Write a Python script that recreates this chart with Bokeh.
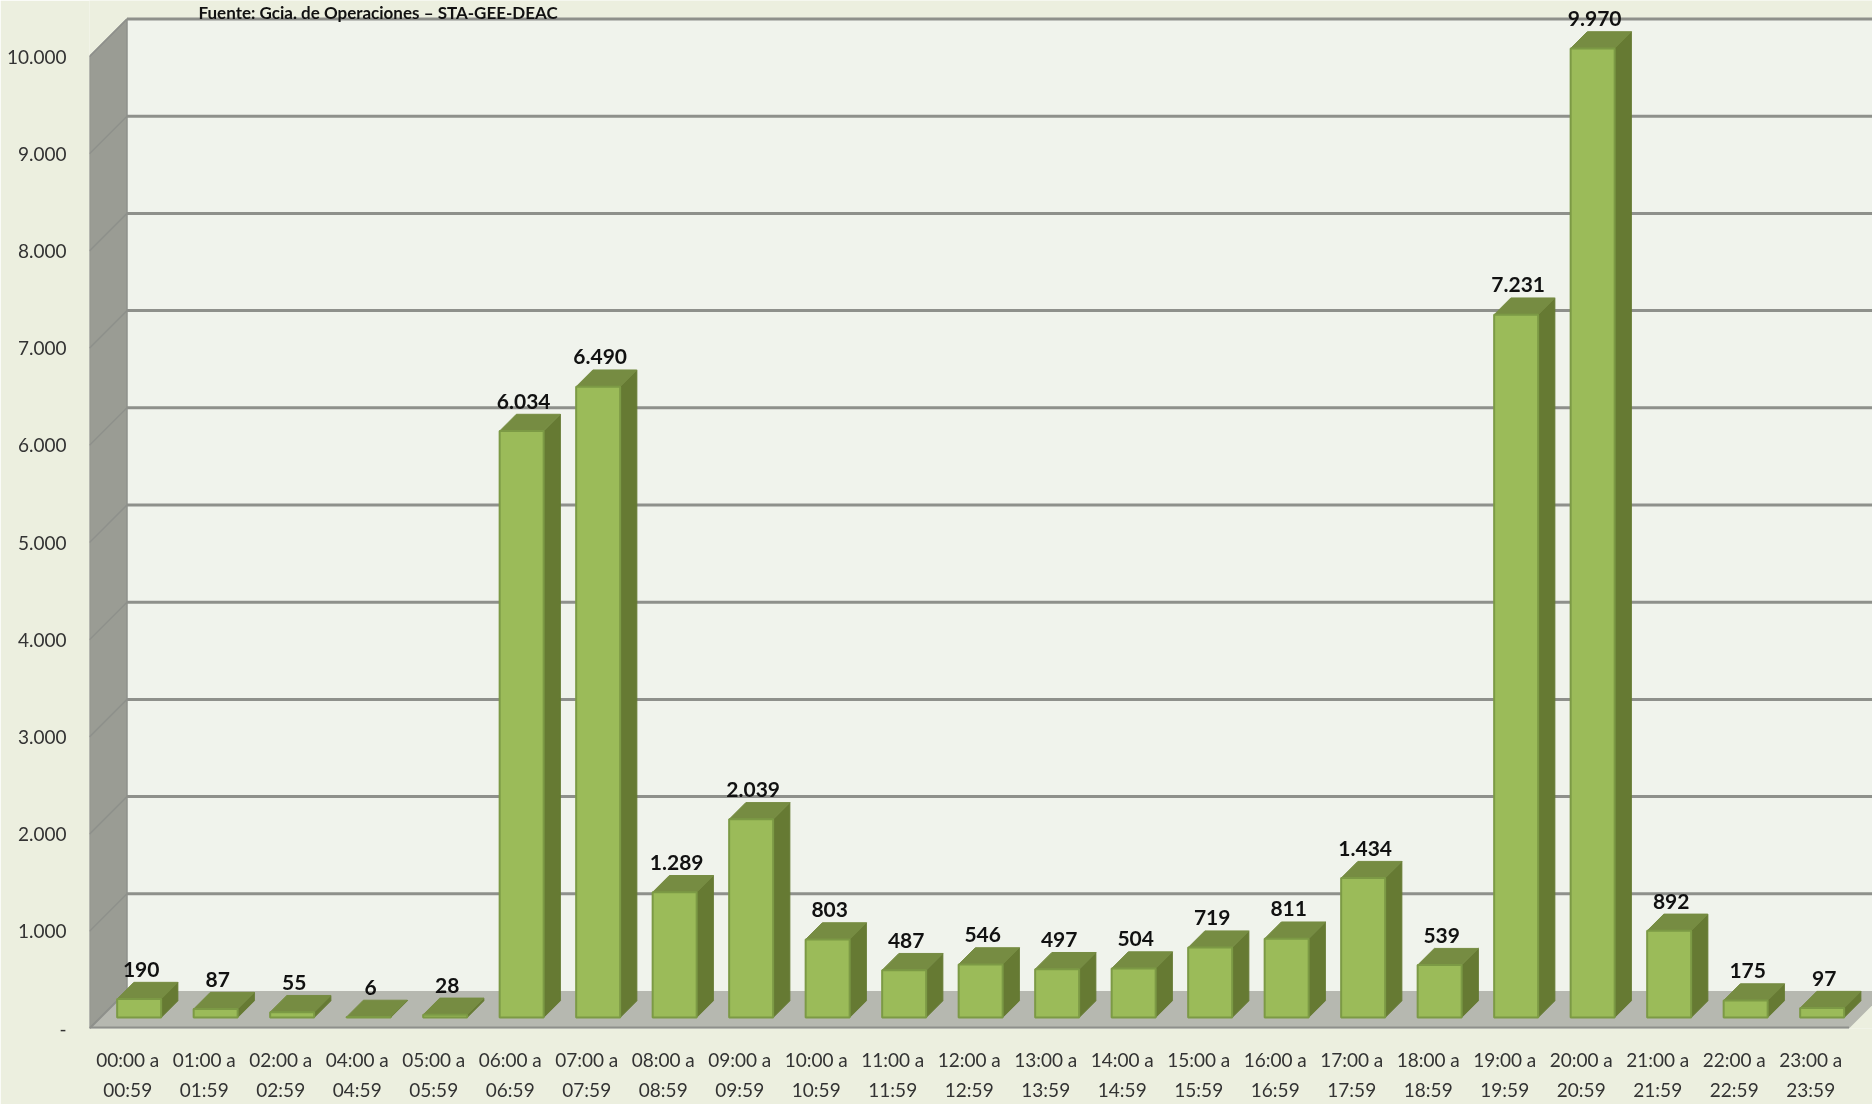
from bokeh.plotting import figure
from bokeh.models import Range1d, FixedTicker, Label, LinearAxis
from bokeh.embed import file_html
from bokeh.resources import INLINE
from bokeh.core.properties import value

# ---- data
starts = ["00:00 a","01:00 a","02:00 a","04:00 a","05:00 a","06:00 a","07:00 a","08:00 a","09:00 a","10:00 a","11:00 a",
          "12:00 a","13:00 a","14:00 a","15:00 a","16:00 a","17:00 a","18:00 a","19:00 a","20:00 a","21:00 a","22:00 a","23:00 a"]
ends = ["00:59","01:59","02:59","04:59","05:59","06:59","07:59","08:59","09:59","10:59","11:59",
        "12:59","13:59","14:59","15:59","16:59","17:59","18:59","19:59","20:59","21:59","22:59","23:59"]
counts = [190,87,55,6,28,6034,6490,1289,2039,803,487,546,497,504,719,811,1434,539,7231,9970,892,175,97]
y_ticks = [0,1000,2000,3000,4000,5000,6000,7000,8000,9000,10000]
y_tick_labels = ["-","1.000","2.000","3.000","4.000","5.000","6.000","7.000","8.000","9.000","10.000"]
source_note = "Fuente: Gcia. de Operaciones – STA-GEE-DEAC"

# ---- layout constants (pixels)
W, H = 1872, 1104
LEFT, BOTTOM = 89, 1028
PX_PER_CAT = 76.5
PX_PER_UNIT = 0.0972
n = len(counts)
cx = lambda px: px / PX_PER_CAT      # pixels -> category units
cy = lambda px: px / PX_PER_UNIT     # pixels -> value units

WALL_DX, WALL_DY = cx(37.5), cy(37.5)
BAR_OFF_X, BAR_OFF_Y = cx(11.4), cy(11)
BAR_W = cx(44)
BAR_DX, BAR_DY = cx(16.7), cy(16.7)

PAGE = "#ECEFDF"; WALL = "#F0F3EC"; SIDE = "#9A9C94"; FLOOR = "#B6B8B0"
GRID = "#8E908B"; FRONT = "#9BBB59"; EDGE = "#7C9A45"; SIDEC = "#667A33"; TOP = "#768C42"
FONT = "Lato"

x0 = -0.5
x1 = x0 + (W - LEFT) / PX_PER_CAT
y1 = BOTTOM / PX_PER_UNIT
xend = x0 + n
p = figure(width=W, height=H, x_range=Range1d(x0, x1), y_range=Range1d(0, y1),
           output_backend="svg", toolbar_location=None,
           min_border_left=LEFT, min_border_right=0, min_border_top=0, min_border_bottom=H - BOTTOM,
           background_fill_color=PAGE, border_fill_color=PAGE, outline_line_color=None,
           styles={"position": "fixed", "left": "0", "top": "0"})
p.grid.visible = False

# walls
p.quad(left=x0 + WALL_DX, right=x1, bottom=WALL_DY, top=y_ticks[-1] + WALL_DY, fill_color=WALL, line_color=None)
p.patch([x0, x0 + WALL_DX, x0 + WALL_DX, x0], [0, WALL_DY, y_ticks[-1] + WALL_DY, y_ticks[-1]],
        fill_color=SIDE, line_color=GRID, line_width=1.5)
# grid lines
for t in y_ticks[1:]:
    p.line([x0, x0 + WALL_DX], [t, t + WALL_DY], line_color=GRID, line_width=1.5)
    p.line([x0 + WALL_DX, x1], [t + WALL_DY, t + WALL_DY], line_color=GRID, line_width=3)
# floor
p.patch([x0, x0 + WALL_DX, xend + WALL_DX, xend], [0, WALL_DY, WALL_DY, 0],
        fill_color=FLOOR, line_color=None)
p.line([x0, xend], [0, 0], line_color=GRID, line_width=4)
p.line([x0, x0 + WALL_DX], [0, WALL_DY], line_color=GRID, line_width=2)

# bars
for i, v in enumerate(counts):
    l = i + BAR_OFF_X - BAR_W / 2
    r = l + BAR_W
    b = BAR_OFF_Y
    t = b + v
    p.patch([r, r + BAR_DX, r + BAR_DX, r], [b, b + BAR_DY, t + BAR_DY, t], fill_color=SIDEC, line_color=SIDEC, line_width=1)
    p.patch([l, l + BAR_DX, r + BAR_DX, r], [t, t + BAR_DY, t + BAR_DY, t], fill_color=TOP, line_color=TOP, line_width=1)
    p.quad(left=l, right=r, bottom=b, top=t, fill_color=FRONT, line_color=EDGE, line_width=2)

# value labels
labels = [f"{v:,}".replace(",", ".") for v in counts]
p.text(x=[i + BAR_OFF_X + cx(2) for i in range(n)],
       y=[BAR_OFF_Y + v + BAR_DY + cy(13) for v in counts],
       text=labels, text_align="center", text_baseline="alphabetic",
       text_font=value(FONT), text_font_style="bold", text_font_size="21px", text_color="#111111")

# source note
p.add_layout(Label(x=x0 + cx(198 - LEFT), y=y1 - cy(12), text=source_note, text_font=FONT, text_font_style="bold",
                   text_font_size="17px", text_color="#111111", text_baseline="alphabetic", text_align="left"))

# axes
def style_x(axis, texts, standoff):
    axis.ticker = FixedTicker(ticks=list(range(n)))
    axis.major_label_overrides = dict(enumerate(texts))
    axis.axis_line_color = None
    axis.major_tick_line_color = None
    axis.minor_tick_line_color = None
    axis.major_tick_out = 0
    axis.major_tick_in = 0
    axis.major_label_standoff = standoff
    axis.major_label_text_font = FONT
    axis.major_label_text_font_size = "19px"
    axis.major_label_text_color = "#333333"

style_x(p.xaxis[0], starts, 19)
second = LinearAxis()
style_x(second, ends, 4)
p.add_layout(second, "below")

ay = p.yaxis[0]
ay.ticker = FixedTicker(ticks=y_ticks)
ay.major_label_overrides = dict(zip(y_ticks, y_tick_labels))
ay.axis_line_color = None
ay.major_tick_line_color = None
ay.minor_tick_line_color = None
ay.major_tick_out = 0
ay.major_tick_in = 0
ay.major_label_standoff = 23
ay.major_label_text_font = FONT
ay.major_label_text_font_size = "19px"
ay.major_label_text_color = "#333333"

open("out.html", "w").write(file_html(p, INLINE))
